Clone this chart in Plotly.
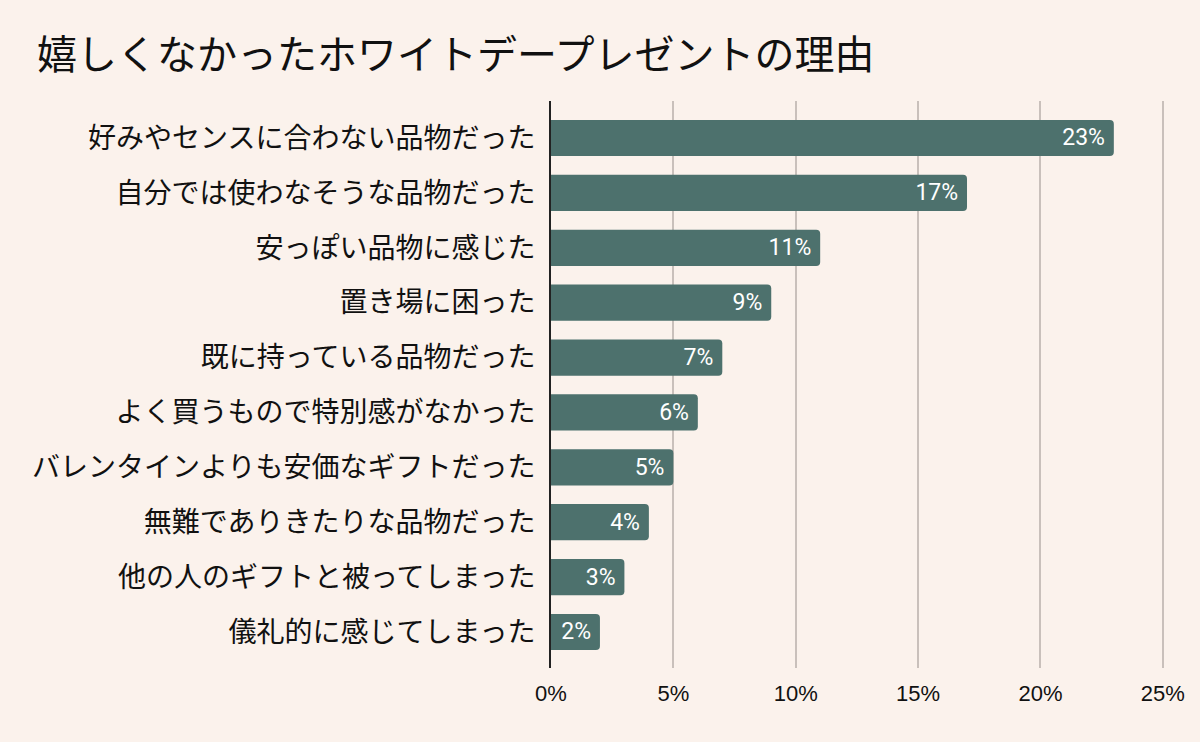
import plotly.graph_objects as go

categories = [
    "好みやセンスに合わない品物だった",
    "自分では使わなそうな品物だった",
    "安っぽい品物に感じた",
    "置き場に困った",
    "既に持っている品物だった",
    "よく買うもので特別感がなかった",
    "バレンタインよりも安価なギフトだった",
    "無難でありきたりな品物だった",
    "他の人のギフトと被ってしまった",
    "儀礼的に感じてしまった",
]
values = [23, 17, 11, 9, 7, 6, 5, 4, 3, 2]
tick_vals = [0, 5, 10, 15, 20, 25]
tick_text = ["0%", "5%", "10%", "15%", "20%", "25%"]
title_text = "嬉しくなかったホワイトデープレゼントの理由"

BG = "#FBF2EC"
BAR = "#4D716D"
JP = "Noto Sans CJK JP"

fig = go.Figure(
    go.Bar(
        x=values,
        y=categories,
        orientation="h",
        marker=dict(color=BAR, line=dict(width=0)),
        width=0.66,
        text=[f"{v}%&nbsp;" for v in values],
        textposition="inside",
        insidetextanchor="end",
        textangle=0,
        textfont=dict(color="white", size=23, family="Roboto"),
        cliponaxis=False,
    )
)

fig.update_layout(
    width=1200,
    height=742,
    paper_bgcolor=BG,
    plot_bgcolor=BG,
    margin=dict(l=551, r=36, t=101, b=74),
    barcornerradius=4,
    showlegend=False,
    title=dict(
        text=title_text,
        font=dict(family=JP, size=40, color="#111111"),
        x=37 / 1200,
        xref="container",
        xanchor="left",
        y=1 - 55 / 742,
        yref="container",
        yanchor="middle",
    ),
    font=dict(family=JP, color="#111111"),
)

fig.update_xaxes(
    range=[0, 25.05],
    tickvals=tick_vals,
    ticktext=tick_text,
    tickfont=dict(family="Liberation Sans, Arial", size=22, color="#111111"),
    showgrid=True,
    gridcolor="#C9C0BB",
    gridwidth=2,
    zeroline=False,
    showline=False,
    ticks="",
    ticklabelstandoff=10,
)

fig.update_yaxes(
    categoryorder="array",
    categoryarray=categories,
    range=[9.656, -0.674],
    tickfont=dict(family=JP, size=28, color="#111111"),
    showgrid=False,
    showline=True,
    linecolor="#222222",
    linewidth=2,
    ticks="",
    ticklabelstandoff=8,
    zeroline=False,
)

fig.write_html(
    "out.html",
    config={"displayModeBar": False},
    post_script="document.body.style.margin='0';document.body.style.background='#FBF2EC';",
)
